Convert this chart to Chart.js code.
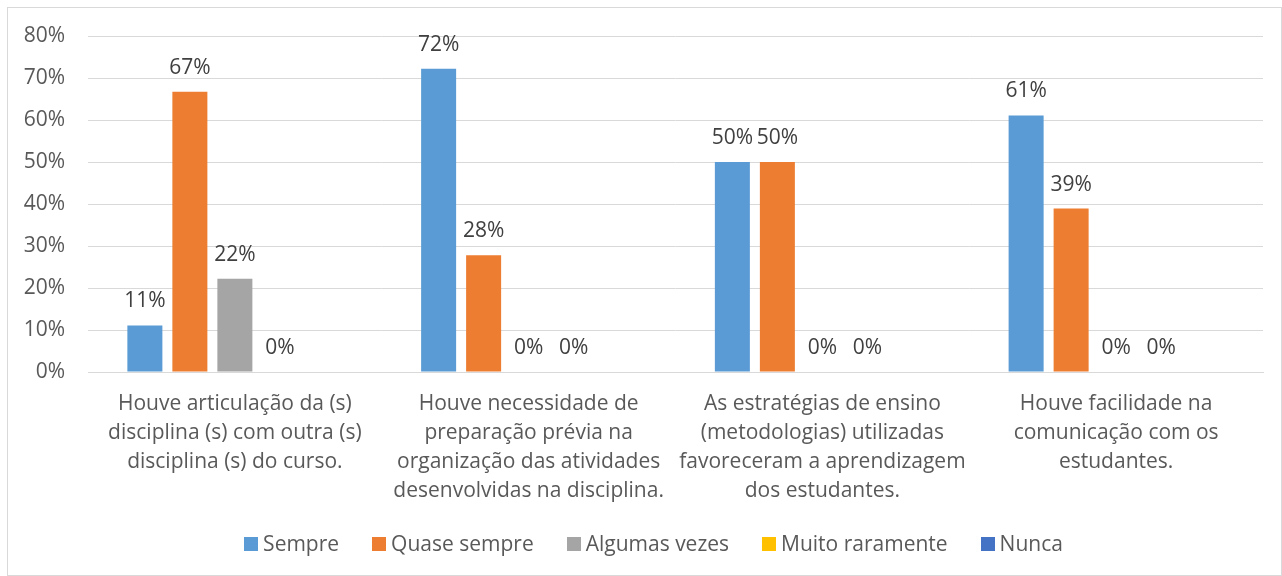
<!DOCTYPE html>
<html>
<head>
<meta charset="utf-8">
<script src="https://cdn.jsdelivr.net/npm/chart.js@4.4.1/dist/chart.umd.min.js"></script>
<style>
  html, body { margin: 0; padding: 0; background: #ffffff; }
  #wrap { position: relative; width: 1282px; height: 576px; }
</style>
</head>
<body>
<div id="wrap"><canvas id="c" width="1282" height="576"></canvas></div>
<script>
const categories = [
  ["Houve articulação da (s)", "disciplina (s) com outra (s)", "disciplina (s) do curso."],
  ["Houve necessidade de", "preparação prévia na", "organização das atividades", "desenvolvidas na disciplina."],
  ["As estratégias de ensino", "(metodologias) utilizadas", "favoreceram a aprendizagem", "dos estudantes."],
  ["Houve facilidade na", "comunicação com os", "estudantes."]
];
const seriesNames = ["Sempre", "Quase sempre", "Algumas vezes", "Muito raramente", "Nunca"];
const sempre = [11.1, 72.2, 50, 61.1];
const quaseSempre = [66.7, 27.8, 50, 38.9];
const algumasVezes = [22.2, 0, 0, 0];
const muitoRaramente = [0, 0, 0, 0];
const nunca = [null, null, null, null];
const yTicks = [0, 10, 20, 30, 40, 50, 60, 70, 80];

const colors = ["#5B9BD5", "#ED7D31", "#A5A5A5", "#FFC000", "#4472C4"];
const FONT = "'Open Sans', 'Noto Sans', sans-serif";

const seriesData = [sempre, quaseSempre, algumasVezes, muitoRaramente, nunca];

const frame = {
  id: 'frame',
  beforeDraw(chart) {
    const ctx = chart.ctx;
    ctx.save();
    ctx.fillStyle = '#ffffff';
    ctx.fillRect(0, 0, chart.width, chart.height);
    ctx.strokeStyle = '#D9D9D9';
    ctx.lineWidth = 1;
    ctx.strokeRect(7.5, 7.5, chart.width - 8, chart.height - 8);
    ctx.restore();
  }
};

const valueLabels = {
  id: 'valueLabels',
  afterDatasetsDraw(chart) {
    const ctx = chart.ctx;
    ctx.save();
    ctx.font = "21px " + FONT;
    ctx.fillStyle = '#404040';
    ctx.textAlign = 'center';
    ctx.textBaseline = 'alphabetic';
    chart.data.datasets.forEach((ds, i) => {
      const meta = chart.getDatasetMeta(i);
      if (meta.hidden) return;
      meta.data.forEach((el, j) => {
        const v = ds.data[j];
        if (v === null || v === undefined) return;
        ctx.fillText(Math.round(v) + '%', el.x, el.y - 18);
      });
    });
    ctx.restore();
  }
};

const customLegend = {
  id: 'customLegend',
  afterDraw(chart) {
    const ctx = chart.ctx;
    ctx.save();
    ctx.font = "21px " + FONT;
    ctx.textBaseline = 'middle';
    ctx.textAlign = 'left';
    const box = 14, textGap = 19, itemGap = 33, cy = 544;
    const items = chart.data.datasets.map(ds => ({
      label: ds.label, color: ds.backgroundColor, w: ctx.measureText(ds.label).width
    }));
    const total = items.reduce((s, it) => s + textGap + it.w, 0) + itemGap * (items.length - 1);
    let x = 653.5 - total / 2;
    items.forEach(it => {
      ctx.fillStyle = it.color;
      ctx.fillRect(Math.round(x), cy - box / 2, box, box);
      ctx.fillStyle = '#595959';
      ctx.fillText(it.label, x + textGap, cy + 1);
      x += textGap + it.w + itemGap;
    });
    ctx.restore();
  }
};

new Chart(document.getElementById('c'), {
  type: 'bar',
  data: {
    labels: categories,
    datasets: seriesNames.map((name, i) => ({
      label: name,
      data: seriesData[i],
      backgroundColor: colors[i],
      borderWidth: 0,
      categoryPercentage: 0.766,
      barPercentage: 0.778
    }))
  },
  options: {
    responsive: false,
    animation: false,
    devicePixelRatio: 1,
    layout: { padding: { left: 0, right: 19, top: 36, bottom: 52 } },
    plugins: {
      legend: { display: false },
      tooltip: { enabled: false }
    },
    scales: {
      x: {
        grid: { display: false, drawTicks: false },
        border: { display: true, color: '#D9D9D9', width: 1 },
        ticks: {
          color: '#595959',
          font: { family: FONT, size: 21, lineHeight: 1.38 },
          padding: 18,
          maxRotation: 0,
          autoSkip: false
        },
        afterFit(scale) { scale.height = 152; }
      },
      y: {
        min: 0,
        max: 80,
        afterBuildTicks(scale) { scale.ticks = yTicks.map(v => ({ value: v })); },
        grid: { color: '#D9D9D9', lineWidth: 1, drawTicks: false },
        border: { display: false },
        ticks: {
          color: '#595959',
          font: { family: FONT, size: 21 },
          padding: 23,
          callback: (v) => v + '%'
        },
        afterFit(scale) { scale.width = 88; }
      }
    }
  },
  plugins: [frame, valueLabels, customLegend]
});
</script>
</body>
</html>
